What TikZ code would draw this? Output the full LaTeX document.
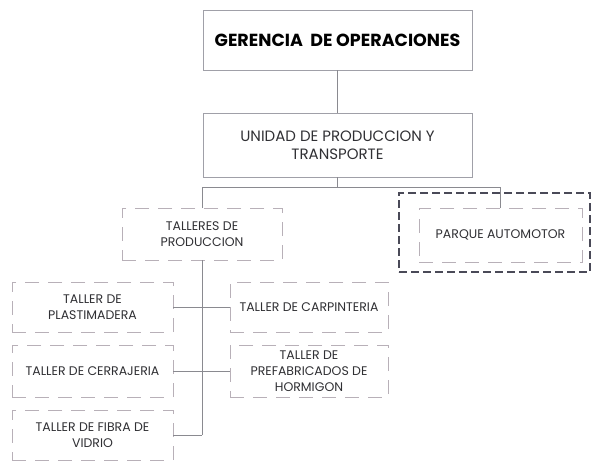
\documentclass[tikz,border=0pt]{standalone}
\usepackage{fontspec}
\setmainfont{Poppins}
\usetikzlibrary{positioning, calc}

\definecolor{boxgray}{HTML}{A0A0A8}
\definecolor{dashgray}{HTML}{B8B0B8}
\definecolor{framedark}{HTML}{4A4A58}
\definecolor{linegray}{HTML}{8A8A90}
\definecolor{textgray}{HTML}{303034}

\begin{document}
\begin{tikzpicture}[
  x=1pt, y=-1pt,
  solidbox/.style={
    draw=boxgray,
    line width=0.8pt,
    align=center,
    minimum width=269pt,
    inner sep=2pt
  },
  unitbox/.style={
    draw=dashgray,
    dash pattern=on 14pt off 9pt,
    line width=0.7pt,
    fill=white,
    align=center,
    inner sep=2pt,
    text=textgray,
    font=\fontsize{12.5}{16}\selectfont
  },
  link/.style={draw=linegray, line width=0.7pt}
]
\useasboundingbox (0,0) rectangle (597,461);

% Top of the chart
\node[solidbox, minimum height=60pt, font=\fontsize{17.5}{20}\selectfont\bfseries] (gerencia) at (337.5,40)
  {GERENCIA\ \ DE OPERACIONES};
\node[solidbox, minimum height=64pt, text=textgray, font=\fontsize{15}{18}\selectfont] (unidad) at (337.5,145)
  {UNIDAD DE PRODUCCION Y\\TRANSPORTE};

% Second level
\node[unitbox, minimum width=160pt, minimum height=52pt] (talleres) at (202,234)
  {TALLERES DE\\PRODUCCION};
\node[unitbox, minimum width=163pt, minimum height=54pt] (parque) at (500.5,235)
  {PARQUE AUTOMOTOR};

% Workshops
\node[unitbox, minimum width=161pt, minimum height=50pt] (plastimadera) at (92.5,307)
  {TALLER DE\\PLASTIMADERA};
\node[unitbox, minimum width=161pt, minimum height=52pt] (cerrajeria) at (92.5,371)
  {TALLER DE CERRAJERIA};
\node[unitbox, minimum width=161pt, minimum height=50pt] (fibra) at (92.5,435)
  {TALLER DE FIBRA DE\\VIDRIO};
\node[unitbox, minimum width=158pt, minimum height=50pt] (carpinteria) at (309,307)
  {TALLER DE CARPINTERIA};
\node[unitbox, minimum width=158pt, minimum height=52pt] (prefabricados) at (309,371)
  {TALLER DE\\PREFABRICADOS DE\\HORMIGON};

% Lines
\draw[link] (gerencia) -- (unidad);
\draw[link] (unidad.south) -- ++(0,10) coordinate (split);
\draw[link] (split) -| (talleres.north);
\draw[link] (split) -| (parque.north);

\coordinate (trunk) at (talleres.south |- fibra.east);
\draw[link] (talleres.south) -- (trunk);
\draw[link] (plastimadera.east) -- (carpinteria.west);
\draw[link] (cerrajeria.east) -- (prefabricados.west);
\draw[link] (fibra.east) -- (trunk);

% Frame round the motor pool
\node[draw=framedark, line width=2.6pt, dash pattern=on 8pt off 4pt,
  minimum width=191pt, minimum height=79pt] (parqueframe) at (494.5,232.5) {};

\end{tikzpicture}
\end{document}
